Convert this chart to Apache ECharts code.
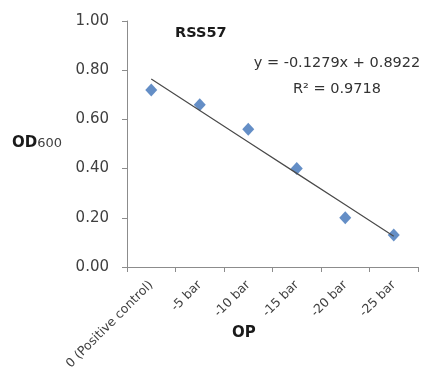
<!DOCTYPE html>
<html>
<head>
<meta charset="utf-8">
<script src="https://cdn.jsdelivr.net/npm/echarts@6/dist/echarts.min.js"></script>
<style>
  html, body { margin: 0; padding: 0; background: #fff; }
  #chart { width: 424px; height: 368px; }
</style>
</head>
<body>
<div id="chart"></div>
<script>
// Osmotic pressure treatments and measured optical density
const categories = ['0 (Positive control)', '-5 bar', '-10 bar', '-15 bar', '-20 bar', '-25 bar'];
const od600 = [0.72, 0.66, 0.56, 0.40, 0.20, 0.13];
const yTicks = [0, 0.2, 0.4, 0.6, 0.8, 1.0];

// Linear trendline as reported on the chart (x = treatment index starting at 1)
const trendSlope = -0.1279;
const trendIntercept = 0.8922;
const rSquared = 0.9718;

const trendData = categories.map((c, i) => trendIntercept + trendSlope * (i + 1));

const font = 'DejaVu Sans';
const chart = echarts.init(document.getElementById('chart'));

chart.setOption({
  animation: false,
  backgroundColor: '#ffffff',
  grid: { left: 127, right: 6, top: 21, bottom: 101, containLabel: false, outerBoundsMode: 'none' },
  xAxis: {
    type: 'category',
    data: categories,
    boundaryGap: true,
    axisLine: { lineStyle: { color: '#8c8c8c', width: 1 } },
    axisTick: { show: true, length: 5, interval: 0, lineStyle: { color: '#8c8c8c' } },
    axisLabel: {
      interval: 0, rotate: 45, margin: 16,
      fontFamily: font, fontSize: 12.5, color: '#404040'
    },
    splitLine: { show: false }
  },
  yAxis: {
    type: 'value',
    min: yTicks[0],
    max: yTicks[yTicks.length - 1],
    interval: 0.2,
    axisLine: { show: true, lineStyle: { color: '#8c8c8c', width: 1 } },
    axisTick: { show: true, length: 5, lineStyle: { color: '#8c8c8c' } },
    axisLabel: {
      margin: 18, fontFamily: font, fontSize: 15, color: '#404040',
      formatter: v => v.toFixed(2)
    },
    splitLine: { show: false }
  },
  series: [
    {
      name: 'Linear (RSS57)',
      type: 'line',
      data: trendData,
      symbol: 'none',
      lineStyle: { color: '#4a4a4a', width: 1.2 },
      z: 3
    },
    {
      name: 'RSS57',
      type: 'scatter',
      data: od600,
      symbol: 'diamond',
      symbolSize: [12, 13],
      itemStyle: { color: '#3d72b8' },
      z: 2
    }
  ],
  graphic: [
    {
      type: 'text', left: 175, top: 26,
      style: { text: 'RSS57', fontFamily: font, fontSize: 14.5, fontWeight: 'bold', fill: '#1a1a1a' }
    },
    {
      type: 'text', x: 337, y: 50,
      style: {
        text: 'y = -' + Math.abs(trendSlope).toFixed(4) + 'x + ' + trendIntercept.toFixed(4) +
              '\nR² = ' + rSquared.toFixed(4),
        fontFamily: font, fontSize: 14.5, fill: '#333333',
        align: 'center', lineHeight: 26
      }
    },
    {
      type: 'text', left: 12, top: 136,
      style: {
        text: '{b|OD}{n|600}',
        rich: {
          b: { fontFamily: font, fontSize: 15, fontWeight: 'bold', fill: '#1a1a1a' },
          n: { fontFamily: font, fontSize: 13, fill: '#404040' }
        }
      }
    },
    {
      type: 'text', left: 232, top: 326,
      style: { text: 'OP', fontFamily: font, fontSize: 15, fontWeight: 'bold', fill: '#1a1a1a' }
    }
  ]
});
</script>
</body>
</html>
